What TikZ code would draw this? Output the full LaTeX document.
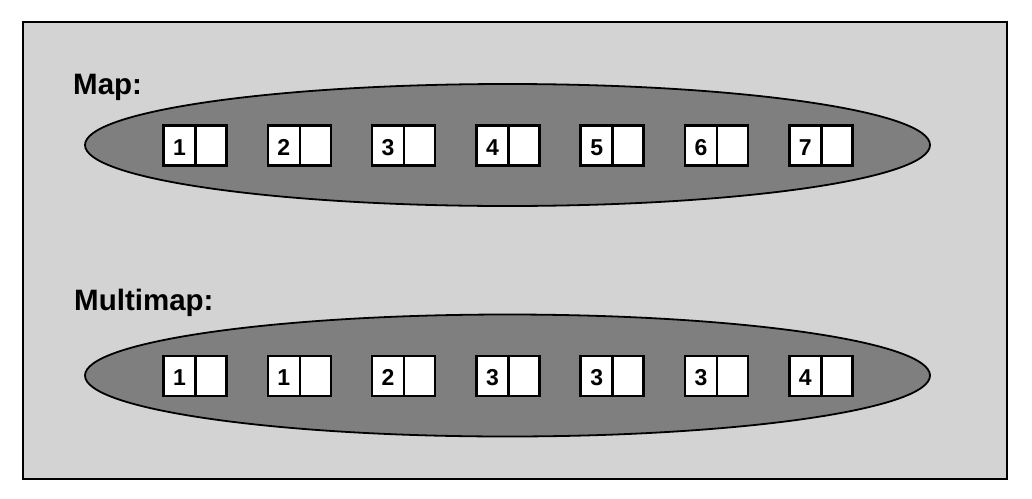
\documentclass[tikz,border=0pt]{standalone}
\usepackage{fontspec}
\setmainfont{Liberation Sans}
\newcommand\digitfont{\fontsize{23}{23}\selectfont\bfseries}
\begin{document}
\begin{tikzpicture}[x=1pt,y=-1pt,
  frame/.style={draw=black,line width=2pt,fill=lightfill},
  bubble/.style={draw=black,line width=1.8pt,fill=bubblefill},
  cell/.style={draw=black,line width=2.6pt,fill=white,minimum width=32pt,minimum height=40pt,inner sep=0pt,text height=19pt,text depth=0pt},
  lbl/.style={anchor=base west,inner sep=0pt,font=\fontsize{29.5}{29.5}\selectfont\bfseries}]
\definecolor{lightfill}{HTML}{D3D3D3}
\definecolor{bubblefill}{HTML}{7F7F7F}
\useasboundingbox (0,0) rectangle (1032,498);
\draw[frame] (23,22) rectangle (1007,479);
\node[lbl] (maplbl) at (73,94) {Map:};
\node[lbl] (mmlbl) at (74,310) {Multimap:};
\draw[bubble] (507.5,145) ellipse [x radius=422.5pt,y radius=61pt];
\draw[bubble] (507.5,375.5) ellipse [x radius=422.5pt,y radius=61pt];
\foreach \n [count=\i from 0] in {1,2,3,4,5,6,7} {
  \node[cell] (mk\i) at ({179.5+104.3*\i},145.5) {\digitfont\n};
  \node[cell,minimum width=31pt] (mv\i) at ({179.5+104.3*\i+31.5},145.5) {};
}
\foreach \n [count=\i from 0] in {1,1,2,3,3,3,4} {
  \node[cell] (uk\i) at ({179.5+104.3*\i},376) {\digitfont\n};
  \node[cell,minimum width=31pt] (uv\i) at ({179.5+104.3*\i+31.5},376) {};
}
\end{tikzpicture}
\end{document}
